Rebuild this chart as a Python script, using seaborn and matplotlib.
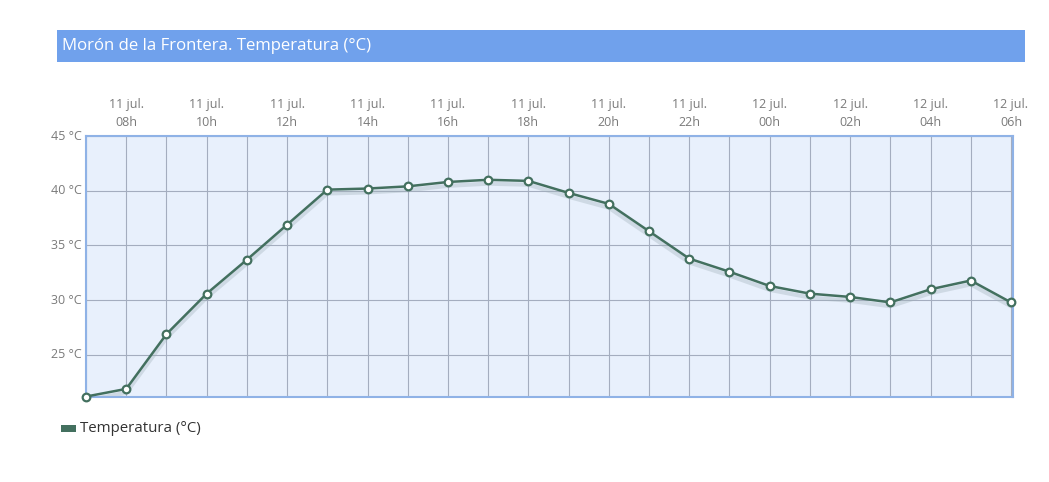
import matplotlib
matplotlib.use("Agg")
import matplotlib.pyplot as plt
import matplotlib.patches as mpatches
import seaborn as sns
import pandas as pd
import numpy as np

hours = ["07h", "08h", "09h", "10h", "11h", "12h", "13h", "14h", "15h", "16h", "17h", "18h",
         "19h", "20h", "21h", "22h", "23h", "00h", "01h", "02h", "03h", "04h", "05h", "06h"]
days = ["11 jul."] * 17 + ["12 jul."] * 7
temps = [21.2, 21.9, 26.9, 30.6, 33.7, 36.9, 40.1, 40.2, 40.4, 40.8, 41.0, 40.9,
         39.8, 38.8, 36.3, 33.8, 32.6, 31.3, 30.6, 30.3, 29.8, 31.0, 31.8, 29.8]
yticks = [25, 30, 35, 40, 45]
title = "Morón de la Frontera. Temperatura (°C)"
series_name = "Temperatura (°C)"

sns.set_theme(style="white")
plt.rcParams["font.family"] = ["Open Sans", "DejaVu Sans"]

df = pd.DataFrame({"idx": np.arange(len(temps)), "temp": temps})

fig = plt.figure(figsize=(10.49, 4.82), dpi=100)
fig.patch.set_facecolor("white")
ax = fig.add_axes([86/1049, 1-397/482, (1013-86)/1049, (397-136)/482])
ax.set_facecolor("#e8f0fc")

line_color = "#43705f"
# shadow
ax.plot(df["idx"], np.array(temps) - 0.35, color="#9fb0b8", lw=3, alpha=0.35, zorder=2)
sns.lineplot(data=df, x="idx", y="temp", ax=ax, color=line_color, lw=1.8,
             marker="o", markersize=5.5, markerfacecolor="white",
             markeredgecolor=line_color, markeredgewidth=1.6, zorder=3, clip_on=False)

ax.set_xlim(0, 23.05)
ax.set_ylim(21.16, 45)
ax.set_xticks(np.arange(len(temps)), minor=False)
ax.grid(True, color="#a4adbf", lw=0.8)
ax.set_axisbelow(True)
ax.set_xlabel("")
ax.set_ylabel("")

# tick labels: top, every 2 hours
ax.xaxis.tick_top()
labels = [f"{d}\n{h}" if i % 2 == 1 else "" for i, (d, h) in enumerate(zip(days, hours))]
ax.set_xticklabels(labels, color="#7a7a7a", fontsize=9, linespacing=1.5)
ax.tick_params(axis="x", length=0, pad=5)
ax.set_yticks(yticks)
ax.set_yticklabels([f"{v} °C" for v in yticks], color="#7a7a7a", fontsize=9)
ax.tick_params(axis="y", length=0, pad=3)
for lab in ax.get_yticklabels():
    lab.set_verticalalignment("center")

for s in ax.spines.values():
    s.set_color("#8fb2e6")
    s.set_linewidth(1.5)

# title bar
fig.patches.append(mpatches.Rectangle((57/1049, 1-62/482), (1025-57)/1049, 32/482,
                                      transform=fig.transFigure, facecolor="#70a1ec",
                                      edgecolor="none", zorder=0))
fig.text(62/1049, 1-46/482, title, color="white", fontsize=12.1, va="center", ha="left")

# legend
fig.patches.append(mpatches.Rectangle((61/1049, 1-432/482), 15/1049, 7/482,
                                      transform=fig.transFigure, facecolor=line_color,
                                      edgecolor="none"))
fig.text(80/1049, 1-428/482, series_name, color="#333333", fontsize=10.8, va="center", ha="left")

fig.savefig("out.png", dpi=100)
